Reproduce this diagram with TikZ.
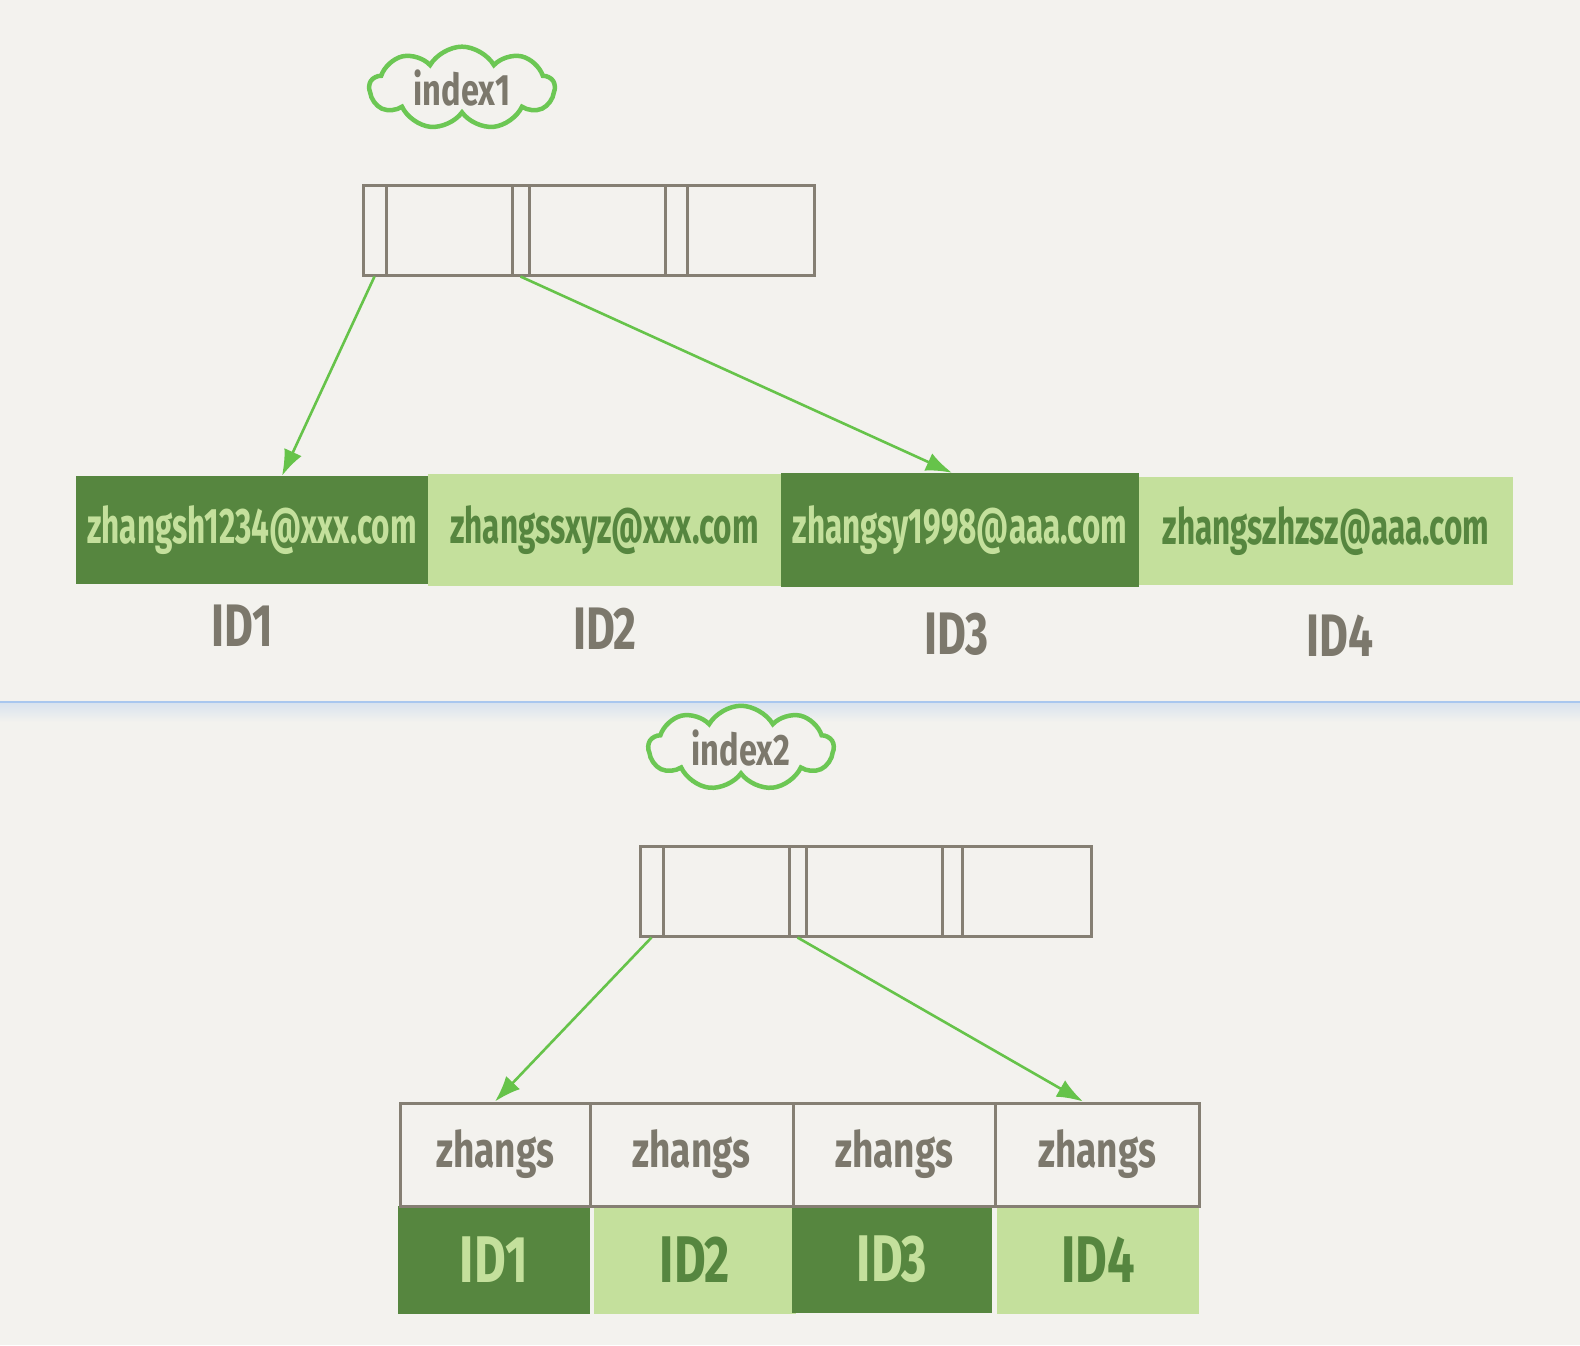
\documentclass[tikz,border=0pt]{standalone}
\usepackage{fontspec}
\usetikzlibrary{shapes.symbols,arrows.meta,calc}
\newfontfamily\hand[FakeStretch=0.63]{Fira Sans}
\newfontfamily\handw[FakeStretch=0.74]{Fira Sans}
\definecolor{paper}{HTML}{F3F2EE}
\definecolor{ink}{HTML}{7C786C}
\definecolor{boxline}{HTML}{857F73}
\definecolor{darkleaf}{HTML}{56863F}
\definecolor{lightleaf}{HTML}{C4E09C}
\definecolor{pointer}{HTML}{66C34A}
\definecolor{cloudline}{HTML}{6CC754}
\definecolor{rule}{HTML}{A9C7EE}
\begin{document}
\begin{tikzpicture}[x=1pt,y=-1pt,
  cloudtag/.style={cloud, cloud puffs=9, cloud puff arc=120, aspect=2.3,
    minimum width=185pt, minimum height=82pt, draw=cloudline, line width=4.5pt,
    fill=paper, text=ink, inner sep=0pt, font=\handw\bfseries\fontsize{44}{48}\selectfont},
  cell/.style={rectangle, draw=boxline, line width=3pt, fill=paper, inner sep=0pt,
    minimum height=90pt},
  darkcell/.style={rectangle, fill=darkleaf, text=lightleaf, inner sep=0pt},
  lightcell/.style={rectangle, fill=lightleaf, text=darkleaf, inner sep=0pt},
  email/.style={font=\hand\bfseries\fontsize{50}{54}\selectfont},
  idlabel/.style={text=ink, inner sep=0pt, font=\handw\bfseries\fontsize{60}{64}\selectfont},
  keycell/.style={rectangle, draw=boxline, line width=3pt, fill=paper, text=ink,
    inner sep=0pt, font=\handw\bfseries\fontsize{50}{54}\selectfont},
  bigid/.style={font=\handw\bfseries\fontsize{66}{70}\selectfont},
  ptr/.style={draw=pointer, line width=2.6pt, -{Latex[length=26pt,width=19pt]}}
]
% canvas
\fill[paper] (0,0) rectangle (1580,1345);
\useasboundingbox (0,0) rectangle (1580,1345);

% ---------------- upper part: index1 ----------------
\node[cloudtag] (tag1) at (462,88) {index1};

% internal page: pointer / key pairs
\node[cell, minimum width=23pt] (a0) at (374.5,230) {};
\node[cell, minimum width=126pt] (a1) at (449,230) {};
\node[cell, minimum width=17pt] (a2) at (520.5,230) {};
\node[cell, minimum width=136pt] (a3) at (597,230) {};
\node[cell, minimum width=22pt] (a4) at (676,230) {};
\node[cell, minimum width=127pt] (a5) at (750.5,230) {};

% leaf page with full e-mail values
\node[darkcell, email, minimum width=352pt, minimum height=108pt] (l1) at (252,530) {zhangsh1234@xxx.com};
\node[lightcell, email, minimum width=353pt, minimum height=112pt] (l2) at (604.5,530) {zhangssxyz@xxx.com};
\node[darkcell, email, minimum width=358pt, minimum height=114pt] (l3) at (960,530) {zhangsy1998@aaa.com};
\node[lightcell, email, minimum width=374pt, minimum height=108pt] (l4) at (1326,531) {zhangszhzsz@aaa.com};

\node[idlabel] (id1) at (242,626) {ID1};
\node[idlabel] (id2) at (605,629) {ID2};
\node[idlabel] (id3) at (957,634) {ID3};
\node[idlabel] (id4) at (1340,636) {ID4};

\draw[ptr] (a0.south) -- ($(l1.north)+(30,0)$);
\draw[ptr] (a2.south) -- ($(l3.north)+(-8,0)$);

% ---------------- divider ----------------
\shade[top color=rule!35!paper, bottom color=paper] (0,703) rectangle (1580,722);
\draw[rule, line width=2pt] (0,702) -- (1580,702);

% ---------------- lower part: index2 ----------------
\node[cloudtag] (tag2) at (741,748) {index2};

\node[cell, minimum width=23pt] (b0) at (651.5,891) {};
\node[cell, minimum width=126pt] (b1) at (726,891) {};
\node[cell, minimum width=17pt] (b2) at (797.5,891) {};
\node[cell, minimum width=136pt] (b3) at (874,891) {};
\node[cell, minimum width=20pt] (b4) at (952,891) {};
\node[cell, minimum width=129pt] (b5) at (1026.5,891) {};

% prefix index leaf: prefixes over ids
\node[lightcell, minimum width=202pt, minimum height=108pt] (n2) at (695,1260) {};
\node[lightcell, minimum width=202pt, minimum height=108pt] (n4) at (1098,1260) {};
\node[darkcell, minimum width=192pt, minimum height=108pt] (n1) at (494,1260) {};
\node[darkcell, minimum width=200pt, minimum height=108pt] (n3) at (892,1259) {};
\node[bigid, text=lightleaf] at (n1) {ID1};
\node[bigid, text=darkleaf] at (n2) {ID2};
\node[bigid, text=lightleaf] at (n3) {ID3};
\node[bigid, text=darkleaf] at (n4) {ID4};

\node[keycell, minimum width=190pt, minimum height=103pt] (k1) at (495,1154.5) {zhangs};
\node[keycell, minimum width=203pt, minimum height=103pt] (k2) at (691.5,1154.5) {zhangs};
\node[keycell, minimum width=202pt, minimum height=103pt] (k3) at (894,1154.5) {zhangs};
\node[keycell, minimum width=204pt, minimum height=103pt] (k4) at (1097,1154.5) {zhangs};

\draw[ptr] (b0.south) -- (k1.north);
\draw[ptr] (b2.south) -- ($(k4.north)+(-14,0)$);
\end{tikzpicture}
\end{document}
